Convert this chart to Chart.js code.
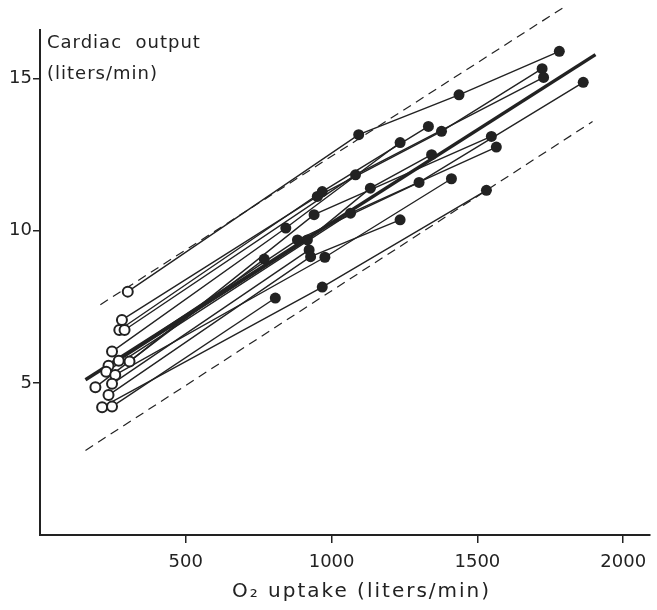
<!DOCTYPE html>
<html>
<head>
<meta charset="utf-8">
<script src="https://cdn.jsdelivr.net/npm/chart.js@4/dist/chart.umd.min.js"></script>
<style>
  html, body { margin: 0; padding: 0; background: #fff; }
  #wrap { width: 657px; height: 610px; position: relative; }
</style>
</head>
<body>
<div id="wrap"><canvas id="chart"></canvas></div>
<script>
  // axis ticks
  const xTicks = [500, 1000, 1500, 2000];
  const yTicks = [5, 10, 15];

  // resting values, one per subject (open circles)
  const restO2 = [301, 281, 272, 290, 247, 270, 307, 235, 227, 258, 190, 247, 235, 213, 247];
  const restCO = [8.0, 7.07, 6.74, 6.74, 6.03, 5.73, 5.70, 5.56, 5.37, 5.26, 4.86, 4.97, 4.6, 4.2, 4.22];

  // exercise levels for each subject (filled circles)
  const exerciseO2 = [
    [1093, 1437, 1781],
    [951, 1377, 1722],
    [968, 1332],
    [1082, 1727],
    [843, 1235],
    [917, 1133, 1343],
    [940, 1548],
    [883, 1300, 1863],
    [1065, 1565],
    [977, 1411],
    [769],
    [923],
    [928, 1235],
    [968, 1531],
    [807]
  ];
  const exerciseCO = [
    [13.16, 14.47, 15.9],
    [11.13, 13.27, 15.33],
    [11.29, 13.43],
    [11.84, 15.04],
    [10.09, 12.9],
    [9.7, 11.4, 12.5],
    [10.53, 13.1],
    [9.7, 11.59, 14.88],
    [10.58, 12.75],
    [9.13, 11.71],
    [9.07],
    [9.37],
    [9.15, 10.36],
    [8.15, 11.33],
    [7.79]
  ];

  // regression line and its limits
  const fitO2 = [156, 1905];
  const fitCO = [5.1, 15.79];
  const upperO2 = [207, 1800];
  const upperCO = [7.57, 17.37];
  const lowerO2 = [156, 1895];
  const lowerCO = [2.78, 13.59];

  const INK = "#222";
  const FONT = "'DejaVu Sans', sans-serif";

  const pts = (xs, ys) => xs.map((x, i) => ({ x, y: ys[i] }));

  const subjectLines = restO2.map((r, i) => ({
    data: pts([r, ...exerciseO2[i]], [restCO[i], ...exerciseCO[i]]),
    showLine: true,
    borderColor: INK,
    borderWidth: 1.4,
    pointRadius: 0,
    order: 2
  }));

  const datasets = [
    {
      data: pts(restO2, restCO),
      pointRadius: 5,
      pointBorderWidth: 2,
      pointBorderColor: INK,
      pointBackgroundColor: "#fff",
      order: 0
    },
    {
      data: pts(exerciseO2.flat(), exerciseCO.flat()),
      pointRadius: 5.5,
      pointBorderWidth: 0,
      pointBackgroundColor: INK,
      order: 0
    },
    {
      data: pts(fitO2, fitCO),
      showLine: true,
      borderColor: INK,
      borderWidth: 3.5,
      pointRadius: 0,
      order: 1
    },
    {
      data: pts(upperO2, upperCO),
      showLine: true,
      borderColor: INK,
      borderWidth: 1.2,
      borderDash: [9, 6],
      pointRadius: 0,
      clip: false,
      order: 3
    },
    {
      data: pts(lowerO2, lowerCO),
      showLine: true,
      borderColor: INK,
      borderWidth: 1.2,
      borderDash: [9, 6],
      pointRadius: 0,
      order: 3
    },
    ...subjectLines
  ];

  const axisTitles = {
    id: "axisTitles",
    afterDraw(chart) {
      const { ctx, chartArea } = chart;
      ctx.save();
      ctx.fillStyle = INK;
      ctx.textAlign = "left";
      ctx.textBaseline = "alphabetic";
      ctx.font = "18px " + FONT;
      ctx.letterSpacing = "1px";
      ctx.fillText("Cardiac  output", chartArea.left + 7, 48);
      ctx.fillText("(liters/min)", chartArea.left + 7, 79);
      ctx.font = "20px " + FONT;
      ctx.letterSpacing = "2px";
      ctx.fillText("O\u2082 uptake (liters/min)", 232, 597);
      ctx.restore();
    }
  };

  new Chart(document.getElementById("chart"), {
    type: "scatter",
    data: { datasets },
    plugins: [axisTitles],
    options: {
      responsive: true,
      maintainAspectRatio: false,
      animation: false,
      layout: { padding: { top: 30, right: 4, left: 0, bottom: 0 } },
      plugins: { legend: { display: false }, tooltip: { enabled: false } },
      scales: {
        x: {
          type: "linear",
          min: 0,
          max: 2092,
          afterBuildTicks: (s) => { s.ticks = xTicks.map((v) => ({ value: v })); },
          afterFit: (s) => { s.height = 75; },
          grid: { drawOnChartArea: false, drawTicks: true, tickLength: 8, color: INK, lineWidth: 1.5 },
          border: { display: true, color: INK, width: 2 },
          ticks: { color: INK, padding: 9, font: { family: FONT, size: 18 }, callback: (v) => String(v), maxRotation: 0 }
        },
        y: {
          type: "linear",
          min: 0,
          max: 16.6,
          afterBuildTicks: (s) => { s.ticks = yTicks.map((v) => ({ value: v })); },
          afterFit: (s) => { s.width = 40; },
          grid: { drawOnChartArea: false, drawTicks: true, tickLength: 7, color: INK, lineWidth: 1.5 },
          border: { display: true, color: INK, width: 2 },
          ticks: { color: INK, padding: 1, font: { family: FONT, size: 18 }, callback: (v) => String(v) }
        }
      }
    }
  });
</script>
</body>
</html>
